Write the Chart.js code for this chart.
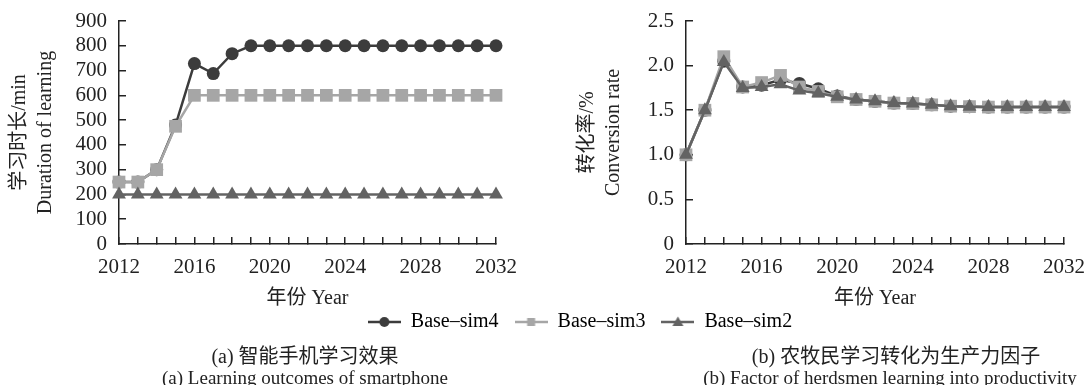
<!DOCTYPE html>
<html>
<head>
<meta charset="utf-8">
<script src="https://cdn.jsdelivr.net/npm/chart.js@4/dist/chart.umd.min.js"></script>
<style>
	body { margin: 0; background: #fff; width: 1086px; height: 385px; position: relative; overflow: hidden;
		font-family: "Liberation Serif", "Noto Sans CJK SC", serif; color: #222; }
	canvas { position: absolute; }
	.cap { position: absolute; text-align: center; white-space: nowrap; line-height: 1; }
	.zh { font-size: 20px; }
	.en { font-size: 19px; }
</style>
</head>
<body>
<canvas id="left" width="543" height="312" style="left:0;top:0"></canvas>
<canvas id="right" width="543" height="312" style="left:543px;top:0"></canvas>
<canvas id="legend" width="560" height="100" style="left:300px;top:296px"></canvas>

<div class="cap zh" style="left:105px;width:400px;top:346px">(a) 智能手机学习效果</div>
<div class="cap en" style="left:105px;width:400px;top:368px">(a) Learning outcomes of smartphone</div>
<div class="cap zh" style="left:696px;width:400px;top:346px">(b) 农牧民学习转化为生产力因子</div>
<div class="cap en" style="left:690px;width:400px;top:368px">(b) Factor of herdsmen learning into productivity</div>

<script>
const years = ['2012', '2013', '2014', '2015', '2016', '2017', '2018', '2019', '2020', '2021', '2022',
	'2023', '2024', '2025', '2026', '2027', '2028', '2029', '2030', '2031', '2032'];
const seriesNames = ['Base–sim4', 'Base–sim3', 'Base–sim2'];

// (a) learning duration, min
const learnSim4 = [250, 250, 300, 480, 728, 688, 768, 800, 800, 800, 800, 800, 800, 800, 800, 800, 800, 800, 800, 800, 800];
const learnSim3 = [250, 250, 300, 475, 600, 600, 600, 600, 600, 600, 600, 600, 600, 600, 600, 600, 600, 600, 600, 600, 600];
const learnSim2 = [200, 200, 200, 200, 200, 200, 200, 200, 200, 200, 200, 200, 200, 200, 200, 200, 200, 200, 200, 200, 200];

// (b) conversion rate, %
const convSim4 = [1.0, 1.5, 2.05, 1.76, 1.78, 1.84, 1.80, 1.74, 1.66, 1.62, 1.60, 1.58, 1.575, 1.56, 1.545, 1.54, 1.535, 1.535, 1.535, 1.535, 1.535];
const convSim3 = [1.0, 1.5, 2.10, 1.76, 1.81, 1.89, 1.76, 1.71, 1.65, 1.62, 1.60, 1.58, 1.575, 1.56, 1.545, 1.54, 1.535, 1.535, 1.535, 1.535, 1.535];
const convSim2 = [1.0, 1.5, 2.04, 1.75, 1.76, 1.79, 1.72, 1.69, 1.65, 1.62, 1.60, 1.58, 1.575, 1.56, 1.545, 1.54, 1.535, 1.535, 1.535, 1.535, 1.535];

const FONT = '"Liberation Serif", "Noto Sans CJK SC", serif';
const INK = '#222';
const PLOT_TOP = 21;
const PLOT_BOTTOM = 244;
const CANVAS_H = 312;
const styles = [
	{ color: '#3c3c3c', point: 'circle', radius: 6.5 },
	{ color: '#a6a6a6', point: 'rect', radius: 9 },
	{ color: '#636363', point: 'triangle', radius: 8 }
];

const makeDatasets = (arrays) =>
	arrays.map((arr, i) => ({
		label: seriesNames[i],
		data: arr,
		borderColor: styles[i].color,
		backgroundColor: styles[i].color,
		borderWidth: 2.5,
		pointStyle: styles[i].point,
		pointRadius: styles[i].radius,
		pointBorderWidth: 0,
		tension: 0,
		clip: false,
		order: 3 - i // sim4 at the back, sim2 on top
	}));

const makeChart = (id, arrays, yOpts, yTitle, yAxisWidth, yTitlePad, plotRight) => {
	new Chart(document.getElementById(id), {
		type: 'line',
		data: { labels: years, datasets: makeDatasets(arrays) },
		options: {
			responsive: false,
			animation: false,
			devicePixelRatio: 1,
			layout: { padding: { top: PLOT_TOP, right: 543 - plotRight, bottom: 0, left: 0 } },
			plugins: { legend: { display: false }, tooltip: { enabled: false } },
			scales: {
				x: {
					offset: false,
					grid: { display: true, drawOnChartArea: false, drawTicks: true, tickLength: -7, color: INK, lineWidth: 1.5 },
					border: { display: true, color: INK, width: 1.5 },
					ticks: {
						autoSkip: false,
						maxRotation: 0,
						padding: 18,
						color: INK,
						font: { family: FONT, size: 21 },
						callback: function (v, i) { return i % 4 === 0 ? this.getLabelForValue(v) : ''; }
					},
					title: { display: true, text: '年份 Year', color: INK, font: { family: FONT, size: 20 }, padding: { top: 0, bottom: 1 } },
					afterFit: (s) => {
						s.height = CANVAS_H - PLOT_BOTTOM;
						s.paddingLeft = 0;
						s.paddingRight = 0;
					}
				},
				y: {
					min: yOpts.min,
					max: yOpts.max,
					grid: { display: true, drawOnChartArea: false, drawTicks: true, tickLength: -7, color: INK, lineWidth: 1.5 },
					border: { display: true, color: INK, width: 1.5 },
					ticks: {
						autoSkip: false,
						stepSize: yOpts.step,
						padding: 19,
						color: INK,
						font: { family: FONT, size: 21 },
						callback: yOpts.fmt
					},
					title: { display: true, text: yTitle, color: INK, font: { family: FONT, size: 20, lineHeight: 1.3 }, padding: { top: yTitlePad, bottom: 0 } },
					afterFit: (s) => {
						s.width = yAxisWidth;
						s.paddingTop = 0;
						s.paddingBottom = 0;
					}
				}
			}
		}
	});
};

makeChart('left', [learnSim4, learnSim3, learnSim2],
	{ min: 0, max: 900, step: 100, fmt: (v) => String(v) },
	['学习时长/min', 'Duration of learning'], 119, 7, 496);

makeChart('right', [convSim4, convSim3, convSim2],
	{ min: 0, max: 2.5, step: 0.5, fmt: (v) => (v === 0 ? '0' : v.toFixed(1)) },
	['转化率/%', 'Conversion rate'], 143, 32, 521);

// legend markers: short line with the series' point on it
const legendMarker = (i) => {
	const c = document.createElement('canvas');
	c.width = 33;
	c.height = 14;
	const ctx = c.getContext('2d');
	ctx.strokeStyle = styles[i].color;
	ctx.fillStyle = styles[i].color;
	ctx.lineWidth = 2.5;
	ctx.beginPath();
	ctx.moveTo(0, 7);
	ctx.lineTo(33, 7);
	ctx.stroke();
	ctx.beginPath();
	if (styles[i].point === 'circle') {
		ctx.arc(16.5, 7, 5, 0, Math.PI * 2);
	} else if (styles[i].point === 'rect') {
		ctx.rect(12.5, 3, 8, 8);
	} else {
		ctx.moveTo(16.5, 1.5);
		ctx.lineTo(22, 11);
		ctx.lineTo(11, 11);
		ctx.closePath();
	}
	ctx.fill();
	return c;
};

new Chart(document.getElementById('legend'), {
	type: 'line',
	data: { labels: [], datasets: [] },
	options: {
		responsive: false,
		animation: false,
		devicePixelRatio: 1,
		scales: { x: { display: false }, y: { display: false } },
		plugins: {
			tooltip: { enabled: false },
			legend: {
				display: true,
				position: 'top',
				labels: {
					usePointStyle: true,
					pointStyleWidth: 33,
					padding: 16,
					color: INK,
					font: { family: FONT, size: 20 },
					generateLabels: () =>
						seriesNames.map((name, i) => ({
							text: name,
							pointStyle: legendMarker(i),
							fillStyle: styles[i].color,
							strokeStyle: styles[i].color,
							lineWidth: 0,
							hidden: false,
							datasetIndex: i
						}))
				}
			}
		}
	}
});
</script>
</body>
</html>
